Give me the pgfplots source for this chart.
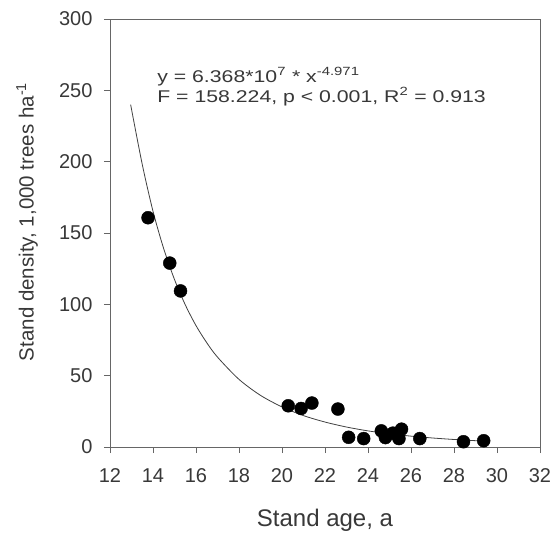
\documentclass[border=0pt]{standalone}
\usepackage{pgfplots}
\pgfplotsset{compat=1.18}
\usepackage{fontspec}
\setmainfont{Liberation Sans}
\begin{document}
\begin{tikzpicture}
\useasboundingbox (-110pt,-89pt) rectangle (442pt,447pt);
\begin{axis}[
  scale only axis,
  width=430pt, height=428pt,
  xmin=12, xmax=32, ymin=0, ymax=300,
  xtick={12,14,...,32}, ytick={0,50,...,300},
  tick align=outside, xtick pos=bottom, ytick pos=left,
  major tick length=6pt,
  axis line style={black!60, line width=0.9pt},
  every tick/.style={black!60, line width=0.9pt},
  /pgf/number format/assume math mode=true,
  ticklabel style={font=\fontsize{20}{22}\selectfont, text=black!78},
  xticklabel style={yshift=-12pt},
  yticklabel style={xshift=-8pt},
  xlabel={Stand age, a},
  ylabel={Stand density, 1,000 trees ha\textsuperscript{-1}},
  xlabel style={font=\fontsize{24}{26}\selectfont, text=black!78,
    at={(axis description cs:0.5,0)}, anchor=center, yshift=-73pt},
  ylabel style={font=\fontsize{20.5}{23}\selectfont, text=black!78,
    at={(axis description cs:0,0.526)}, anchor=center, yshift=83pt},
  clip=false,
]
\addplot[black!75, line width=0.8pt, smooth] coordinates {
(12.96,240) (13.5,198.1) (14,165.3) (14.5,138.9) (15,117.4) (15.5,99.7)
(16,85.1) (16.5,73.1) (17,63.0) (18,47.4) (19,36.2) (20,28.1) (21,22.0)
(22,17.5) (23,14.0) (24,11.3) (25,9.26) (26,7.62) (27,6.32) (28,5.27)
(29,4.43) (29.4,4.13)
};
\addplot[only marks, mark=*, mark size=6.5pt, black] coordinates {
(13.77,160.7) (14.78,128.9) (15.28,109.4) (20.29,28.9) (20.89,27.0)
(21.39,30.8) (22.60,26.6) (23.10,6.8) (23.80,5.9) (24.62,11.3)
(24.81,6.6) (25.16,9.7) (25.56,12.5) (25.44,5.9) (26.41,5.9)
(28.44,3.7) (29.38,4.4)
};
\node[anchor=base west, xscale=1.25, font=\fontsize{17}{20}\selectfont, text=black!78, inner sep=0pt]
  at (axis cs:14.19,255.8) {y = 6.368*10\textsuperscript{7} * x\textsuperscript{-4.971}};
\node[anchor=base west, xscale=1.25, font=\fontsize{17}{20}\selectfont, text=black!78, inner sep=0pt]
  at (axis cs:14.19,241.8) {F = 158.224, p {\textless} 0.001, R\textsuperscript{2} = 0.913};
\end{axis}
\end{tikzpicture}
\end{document}
